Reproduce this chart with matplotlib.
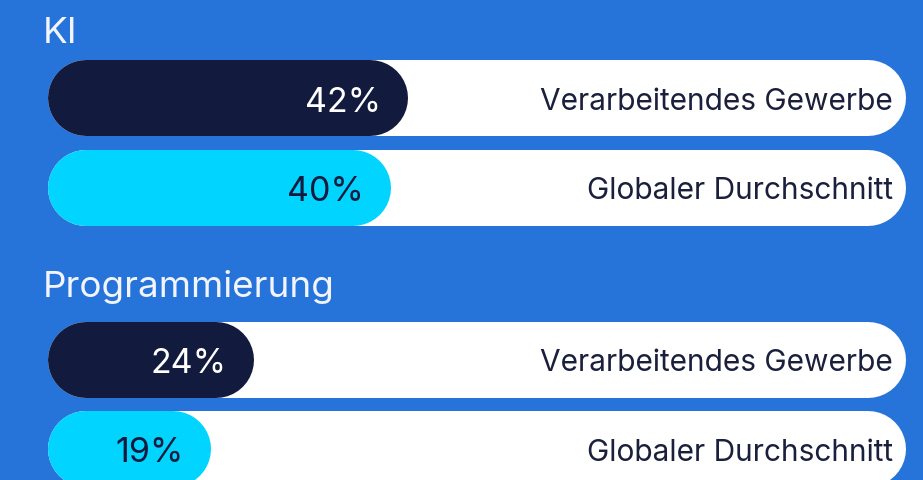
import matplotlib
matplotlib.use("Agg")
import matplotlib.pyplot as plt

# Survey shares (percent) per skill area
categories = ["KI", "Programmierung"]
series_names = ["Verarbeitendes Gewerbe", "Globaler Durchschnitt"]
manufacturing = [42, 24]
global_avg = [40, 19]

BG = "#2674D9"
NAVY = "#121A3D"
CYAN = "#00D4FF"
TRACK = "#FFFFFF"

plt.rcParams["font.family"] = ["Inter", "DejaVu Sans"]

W, H, DPI = 923, 481, 100
fig = plt.figure(figsize=(W / DPI, H / DPI), dpi=DPI, facecolor=BG)
ax = fig.add_axes([0, 0, 1, 1])
ax.set_facecolor(BG)
ax.axis("off")

# x axis in percent, y axis in pixel rows
left_px, px_per_pct = 48, 8.58
ax.set_xlim(-left_px / px_per_pct, (W - left_px) / px_per_pct)
ax.set_ylim(H, 0)

bar_h_px = 76
lw_pt = bar_h_px * 72 / DPI
r_pct = (bar_h_px / 2) / px_per_pct

title_baselines = [43, 297]
row_centers = [[99, 188.5], [360.5, 450]]
colors = [NAVY, CYAN]
value_colors = ["#FFFFFF", NAVY]


def pill(y, x0, x1, color, z):
    ax.plot([x0 + r_pct, x1 - r_pct], [y, y], color=color, lw=lw_pt,
            solid_capstyle="round", zorder=z)


for i, cat in enumerate(categories):
    ax.text(-5 / px_per_pct, title_baselines[i], cat, color="#F2F5FF",
            fontsize=26.5, va="baseline", ha="left")
    vals = [manufacturing[i], global_avg[i]]
    for j, v in enumerate(vals):
        y = row_centers[i][j]
        pill(y, 0, 100, TRACK, 1)
        pill(y, 0, v, colors[j], 2)
        ax.text(v - 27 / px_per_pct, y, f"{v}%", color=value_colors[j],
                fontsize=24.5, va="center_baseline", ha="right", zorder=3)
        ax.text(100 - 13 / px_per_pct, y, series_names[j], color="#1A1F3C",
                fontsize=21.5, va="center_baseline", ha="right", zorder=3)

fig.savefig("out.png", dpi=DPI, facecolor=BG)
